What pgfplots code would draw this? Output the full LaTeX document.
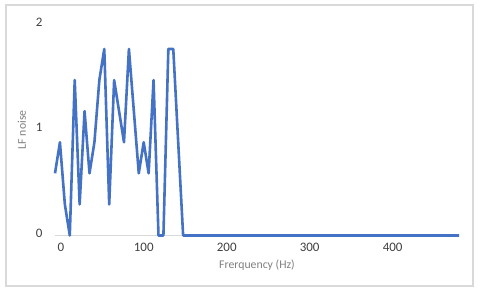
\documentclass[border=0pt]{standalone}
\usepackage{fontspec}
\setmainfont{Carlito}
\usepackage{pgfplots}
\pgfplotsset{compat=1.18}
\definecolor{xlblue}{HTML}{4472C4}
\definecolor{ticklab}{HTML}{404040}
\definecolor{titlab}{HTML}{7F7F7F}
\definecolor{framec}{HTML}{D9D9D9}
\begin{document}
\begin{tikzpicture}[x=1bp,y=1bp]
\path[use as bounding box] (0,0) rectangle (480,292);
\draw[framec, line width=1.2bp] (6,6) rectangle (473,287);
\begin{axis}[
  at={(55bp,56.5bp)}, anchor=south west,
  scale only axis, width=404bp, height=211.5bp,
  xmin=-7, xmax=480, ymin=0, ymax=2,
  axis x line*=bottom, axis y line*=left,
  x axis line style={draw=framec, line width=0.8bp, -},
  y axis line style={draw=none},
  xtick={0,100,200,300,400}, ytick={0,1,2},
  major tick length=0pt,
  tick label style={font=\fontsize{13}{15}\selectfont, text=ticklab},
  /pgf/number format/assume math mode=true,
  xticklabel style={yshift=-4bp},
  yticklabel style={xshift=-9bp, yshift=2bp},
  xlabel={Frerquency (Hz)}, ylabel={LF noise},
  label style={font=\fontsize{11.8}{14}\selectfont, text=titlab},
  xlabel style={at={(axis description cs:0.5,0)}, anchor=north, yshift=-21bp},
  ylabel style={at={(axis description cs:-0.0817,0.5)}, anchor=center},
  clip=false,
]
\addplot[xlblue, line width=2.6bp, line join=round] table {
x y
-7.00 0.588
-1.06 0.882
4.88 0.294
10.82 0
16.76 1.47
22.70 0.294
28.64 1.176
34.58 0.588
40.52 0.882
46.46 1.47
52.40 1.764
58.34 0.294
64.28 1.47
70.22 1.176
76.16 0.882
82.10 1.764
88.04 1.176
93.98 0.588
99.92 0.882
105.86 0.588
111.80 1.47
117.74 0
123.68 0
129.62 1.764
135.56 1.764
141.50 0.882
147.44 0
480 0
};
\end{axis}
\end{tikzpicture}
\end{document}
